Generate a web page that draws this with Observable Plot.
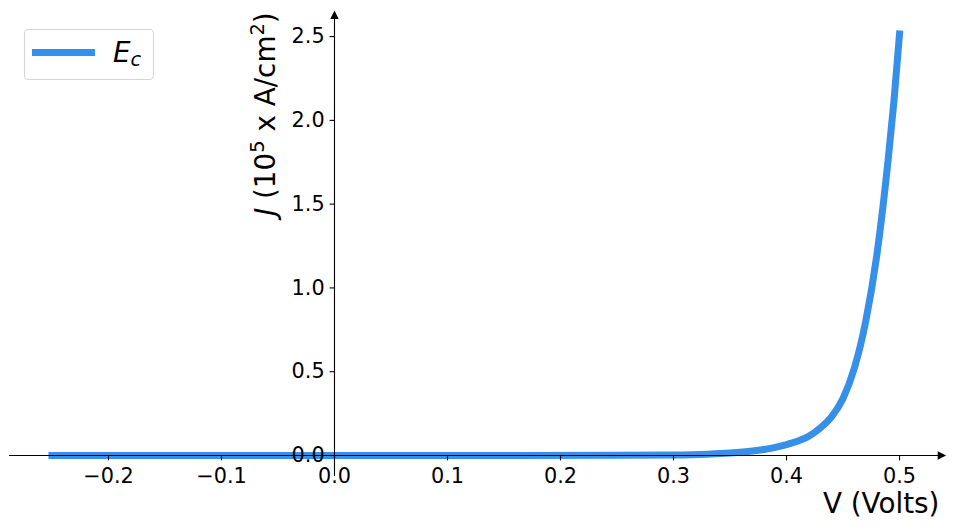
<!DOCTYPE html>
<html>
<head>
<meta charset="utf-8">
<script src="https://cdn.jsdelivr.net/npm/d3@7"></script>
<script src="https://cdn.jsdelivr.net/npm/@observablehq/plot@0.6"></script>
<style>
  html, body { margin: 0; padding: 0; background: #ffffff; }
  #chart { width: 954px; height: 528px; }
</style>
</head>
<body>
<div id="chart"></div>
<script>
// ---- data ----
const voltage = [-0.25, -0.15, -0.05, 0.05, 0.15, 0.25, 0.30, 0.33, 0.35, 0.37, 0.38, 0.39, 0.40, 0.41, 0.42, 0.43, 0.44, 0.45, 0.46, 0.47, 0.48, 0.49, 0.495, 0.5];
const current = [0, 0, 0, 0, 0, 0.0008, 0.003, 0.008, 0.0146, 0.0265, 0.036, 0.048, 0.065, 0.086, 0.116, 0.165, 0.232, 0.340, 0.520, 0.797, 1.20, 1.77, 2.11, 2.515];
const xTicks = [-0.2, -0.1, 0.0, 0.1, 0.2, 0.3, 0.4, 0.5];
const yTicks = [0.0, 0.5, 1.0, 1.5, 2.0, 2.5];
const xDomain = [-0.2875, 0.5375];
const yDomain = [-0.126, 2.63];
const seriesLabel = ["E", "c"];
const xLabel = "V (Volts)";
const yLabelParts = ["J", " (10", "5", " x A/cm", "2", ")"];

const lineColor = "#368fe8";
const font = "DejaVu Sans";
const tickFont = 20.8;
const labelFont = 27.8;

const data = voltage.map((v, i) => ({v, j: current[i]}));
const fmt = d => d.toFixed(1).replace("-", "\u2212");

// custom symbols (pixel-sized tick marks and arrow heads)
const tickDown = {draw(ctx) { ctx.moveTo(0, 0); ctx.lineTo(0, 4.9); }};
const tickLeft = {draw(ctx) { ctx.moveTo(0, 0); ctx.lineTo(-4.9, 0); }};
const arrowRight = {draw(ctx) { ctx.moveTo(4.2, 0); ctx.lineTo(-4.2, -4.2); ctx.lineTo(-4.2, 4.2); ctx.closePath(); }};
const arrowUp = {draw(ctx) { ctx.moveTo(0, -4.2); ctx.lineTo(-4.2, 4.2); ctx.lineTo(4.2, 4.2); ctx.closePath(); }};

const plot = Plot.plot({
  width: 954,
  height: 528,
  marginLeft: 9.1,
  marginRight: 12.6,
  marginTop: 14.3,
  marginBottom: 51.9,
  style: {fontFamily: font, background: "white", overflow: "visible"},
  x: {domain: xDomain, axis: null},
  y: {domain: yDomain, axis: null},
  marks: [
    Plot.line(data, {x: "v", y: "j", stroke: lineColor, strokeWidth: 7, strokeLinecap: "square", curve: "monotone-x"}),
    Plot.ruleY([0], {stroke: "black", strokeWidth: 1.1}),
    Plot.ruleX([0], {stroke: "black", strokeWidth: 1.1}),
    Plot.dot([xDomain[1]], {x: d => d, y: () => 0, symbol: arrowRight, fill: "black", stroke: "none"}),
    Plot.dot([yDomain[1]], {x: () => 0, y: d => d, symbol: arrowUp, fill: "black", stroke: "none"}),
    Plot.dot(xTicks, {x: d => d, y: () => 0, symbol: tickDown, fill: "none", stroke: "black", strokeWidth: 1.1}),
    Plot.dot(yTicks, {x: () => 0, y: d => d, symbol: tickLeft, fill: "none", stroke: "black", strokeWidth: 1.1}),
    Plot.text(xTicks, {x: d => d, y: () => 0, text: fmt, dy: 12.5, lineAnchor: "top", textAnchor: "middle", fontSize: tickFont, fontFamily: font, fill: "black"}),
    Plot.text(yTicks, {x: () => 0, y: d => d, text: fmt, dx: -9.8, lineAnchor: "middle", textAnchor: "end", fontSize: tickFont, fontFamily: font, fill: "black"})
  ]
});

document.getElementById("chart").appendChild(plot);

// ---- labels and legend ----
const svg = d3.select(plot.tagName.toLowerCase() === "svg" ? plot : plot.querySelector("svg"));
const X = plot.scale("x"), Y = plot.scale("y");
const xRight = X.apply(xDomain[1]);
const yTop = Y.apply(yDomain[1]);
const xZero = X.apply(0);

// x label (right aligned)
svg.append("text")
  .attr("x", xRight - 2)
  .attr("y", 513)
  .attr("text-anchor", "end")
  .attr("font-family", font)
  .attr("font-size", labelFont)
  .attr("fill", "black")
  .text(xLabel);

// y label (rotated, aligned to top)
const yl = svg.append("text")
  .attr("transform", `translate(${xZero - 59},${yTop - 2}) rotate(-90)`)
  .attr("text-anchor", "end")
  .attr("font-family", font)
  .attr("font-size", labelFont)
  .attr("fill", "black");
yl.append("tspan").attr("font-style", "italic").text(yLabelParts[0]);
yl.append("tspan").text(yLabelParts[1]);
yl.append("tspan").attr("font-size", labelFont * 0.7).attr("dy", -11).text(yLabelParts[2]);
yl.append("tspan").attr("dy", 11).text(yLabelParts[3]);
yl.append("tspan").attr("font-size", labelFont * 0.7).attr("dy", -11).text(yLabelParts[4]);
yl.append("tspan").attr("dy", 11).text(yLabelParts[5]);

// legend
const lg = svg.append("g");
lg.append("rect")
  .attr("x", 24.5).attr("y", 29.5).attr("width", 129).attr("height", 50)
  .attr("rx", 4).attr("ry", 4)
  .attr("fill", "white").attr("fill-opacity", 0.8)
  .attr("stroke", "#d6d6d6").attr("stroke-width", 1.1);
lg.append("line")
  .attr("x1", 32).attr("x2", 95).attr("y1", 52.5).attr("y2", 52.5)
  .attr("stroke", lineColor).attr("stroke-width", 7);
const lt = lg.append("text")
  .attr("x", 113).attr("y", 62)
  .attr("text-anchor", "start")
  .attr("font-family", font).attr("font-size", labelFont)
  .attr("font-style", "italic").attr("fill", "black");
lt.append("tspan").text(seriesLabel[0]);
lt.append("tspan").attr("font-size", labelFont * 0.7).attr("dy", 4).text(seriesLabel[1]);
</script>
</body>
</html>
